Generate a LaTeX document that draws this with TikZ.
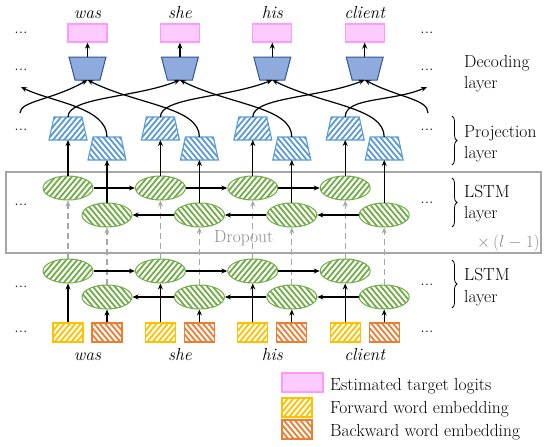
\documentclass[tikz,border=0pt]{standalone}
\usetikzlibrary{shapes.geometric,arrows.meta,decorations.pathreplacing}
\definecolor{pinkfill}{HTML}{FFCCFF}
\definecolor{pinkdraw}{HTML}{FF99FF}
\definecolor{decfill}{HTML}{8FAADC}
\definecolor{decdraw}{HTML}{2F5597}
\definecolor{projblue}{HTML}{5B9BD5}
\definecolor{lstmgreen}{HTML}{70AD47}
\definecolor{fwdyellow}{HTML}{FFC000}
\definecolor{bwdorange}{HTML}{ED7D31}
\definecolor{boxgray}{HTML}{A6A6A6}
\definecolor{txtgray}{HTML}{8C8C8C}
\begin{document}
\begin{tikzpicture}[x=1pt,y=-1pt,
  font=\fontsize{17.5}{21}\selectfont,
  arr/.style={-{Stealth[length=6pt,width=5pt]}, line width=1.2pt, black},
  darr/.style={-{Stealth[length=6pt,width=5pt]}, line width=1.2pt, boxgray, dash pattern=on 6pt off 4pt},
  hold/.style={inner sep=0pt, outer sep=0pt, minimum width=#1},
  hatchF/.style={path picture={\foreach \k in {-9,...,9}{\draw[#1, line width=1.8pt] ([xshift=\k*5.5pt]path picture bounding box.center) ++(-20pt,-24pt) -- ++(40pt,48pt);}}},
  hatchB/.style={path picture={\foreach \k in {-9,...,9}{\draw[#1, line width=1.8pt] ([xshift=\k*5.5pt]path picture bounding box.center) ++(20pt,-24pt) -- ++(-40pt,48pt);}}},
  pinkbox/.style={draw=pinkdraw, fill=pinkfill, line width=1.3pt, inner sep=0pt, minimum width=39pt, minimum height=18pt},
  decshape/.style={draw=decdraw, fill=decfill, line width=1pt},
  projF/.style={draw=projblue, line width=1.1pt, hatchF=projblue},
  projB/.style={draw=projblue, line width=1.1pt, hatchB=projblue},
  lstmF/.style={ellipse, draw=lstmgreen, line width=1pt, inner sep=0pt, minimum width=50pt, minimum height=24pt, hatchF=lstmgreen},
  lstmB/.style={ellipse, draw=lstmgreen, line width=1pt, inner sep=0pt, minimum width=50pt, minimum height=24pt, hatchB=lstmgreen},
  embF/.style={draw=fwdyellow, line width=1.1pt, inner sep=0pt, minimum width=30pt, minimum height=19pt, hatchF=fwdyellow},
  embB/.style={draw=bwdorange, line width=1.1pt, inner sep=0pt, minimum width=30pt, minimum height=19pt, hatchB=bwdorange},
  dots/.style={inner sep=0pt},
  lbl/.style={anchor=base west, inner sep=0pt},
  word/.style={anchor=base, inner sep=0pt, font=\fontsize{17.5}{21}\selectfont\itshape},
  brc/.style={decorate, decoration={brace, amplitude=5pt}, line width=0.8pt}
]
\useasboundingbox (0,0) rectangle (550,447);

% dropout box
\node[draw=boxgray, line width=1.4pt, inner sep=0pt, minimum width=535pt, minimum height=81pt] (box) at (273.5,212.5) {};
\node[lbl, text=txtgray] (drop) at (214,242) {Dropout};
\node[anchor=base east, inner sep=0pt, text=txtgray] (times) at (540,247) {$\times\,(l-1)$};

\foreach \i/\w in {1/was,2/she,3/his,4/client}{
  \pgfmathsetmacro\fx{68+92.4*(\i-1)}
  \pgfmathsetmacro\bx{\fx+39}
  \pgfmathsetmacro\dx{\fx+19.5}
  % top
  \node[word] (tw\i) at (\dx,18) {\w};
  \node[pinkbox] (p\i) at (\dx,33) {};
  \node[hold=37pt, minimum height=23pt] (d\i) at (\dx,68.5) {};
  \path[decshape] (d\i.north west) -- (d\i.north east) -- ([xshift=-6pt]d\i.south east) -- ([xshift=6pt]d\i.south west) -- cycle;
  \draw[arr] (d\i.north) -- (p\i.south);
  % projection
  \node[hold=38pt, minimum height=23pt] (pf\i) at (\fx,128.5) {};
  \node[hold=38pt, minimum height=23pt] (pb\i) at (\bx,148.5) {};
  \path[projF] (pf\i.south west) -- (pf\i.south east) -- ([xshift=-5pt]pf\i.north east) -- ([xshift=5pt]pf\i.north west) -- cycle;
  \path[projB] (pb\i.south west) -- (pb\i.south east) -- ([xshift=-5pt]pb\i.north east) -- ([xshift=5pt]pb\i.north west) -- cycle;
  % LSTM layers
  \node[lstmF] (uf\i) at (\fx,188) {};
  \node[lstmB] (ub\i) at (\bx,215) {};
  \node[lstmF] (lf\i) at (\fx,271) {};
  \node[lstmB] (lb\i) at (\bx,297) {};
  % embeddings
  \node[embF] (ef\i) at (\fx,332.5) {};
  \node[embB] (eb\i) at (\bx,332.5) {};
  \node[word] (bw\i) at (\dx,360) {\w};
  % vertical connectors
  \draw[arr] (uf\i.north) -- (pf\i.south);
  \draw[arr] (ub\i.north) -- (pb\i.south);
  \draw[darr] (lf\i.north) -- (uf\i.south);
  \draw[darr] (lb\i.north) -- (ub\i.south);
  \draw[arr] (ef\i.north) -- (lf\i.south);
  \draw[arr] (eb\i.north) -- (lb\i.south);
}

% horizontal recurrent connectors
\foreach \i/\j in {1/2,2/3,3/4}{
  \draw[arr] (uf\i.east) -- (uf\j.west);
  \draw[arr] (ub\j.west) -- (ub\i.east);
  \draw[arr] (lf\i.east) -- (lf\j.west);
  \draw[arr] (lb\j.west) -- (lb\i.east);
  % projection to decoding
  \draw[arr] (pf\i.north) .. controls +(0,-20) and +(-45,18) .. (d\j.south);
  \draw[arr] (pb\j.north) .. controls +(0,-30) and +(50,25) .. (d\i.south);
}
\coordinate (lout) at (21,87);
\coordinate (lin) at (20,113);
\coordinate (rout) at (427,87);
\coordinate (rin) at (428,113);
\draw[arr] (pb1.north) .. controls +(0,-30) and +(30,15) .. (lout);
\draw[arr] (lin) .. controls +(0,-12) and +(-35,20) .. (d1.south);
\draw[arr] (pf4.north) .. controls +(0,-20) and +(-35,15) .. (rout);
\draw[arr] (rin) .. controls +(0,-14) and +(35,18) .. (d4.south);

% dots
\foreach \n/\y in {1/33,2/70,3/130,4/205,5/287,6/332}{
  \node[dots] (dl\n) at (21,\y) {...};
}
\foreach \n/\y in {1/33,2/70,3/130,4/203,5/285,6/332}{
  \node[dots] (dr\n) at (427,\y) {...};
}

% right labels
\node[lbl] (t1) at (464,67) {Decoding};
\node[lbl] (t2) at (464,88) {layer};
\draw[brc] (452,116) -- (452,165);
\node[lbl] (t3) at (464,137) {Projection};
\node[lbl] (t4) at (464,158) {layer};
\draw[brc] (452,178) -- (452,227);
\node[lbl] (t5) at (464,197) {LSTM};
\node[lbl] (t6) at (464,218) {layer};
\draw[brc] (452,260) -- (452,308);
\node[lbl] (t7) at (464,280) {LSTM};
\node[lbl] (t8) at (464,302) {layer};

% legend
\node[pinkbox, minimum width=41pt, minimum height=19pt] (lg1) at (302.5,382.5) {};
\node[embF] (lg2) at (297,407.5) {};
\node[embB] (lg3) at (297,429.5) {};
\node[lbl] (lt1) at (330,390) {Estimated target logits};
\node[lbl] (lt2) at (330,413) {Forward word embedding};
\node[lbl] (lt3) at (330,436) {Backward word embedding};
\end{tikzpicture}
\end{document}
